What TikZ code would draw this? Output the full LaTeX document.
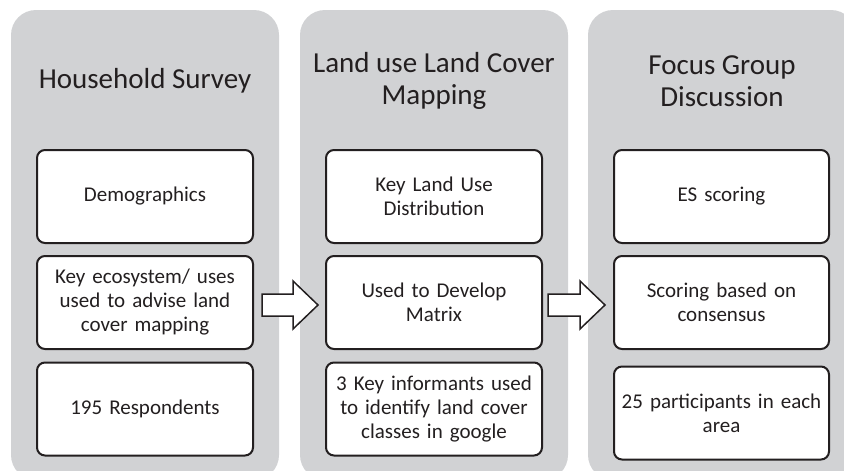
\documentclass[tikz,border=0pt]{standalone}
\usepackage{fontspec}
\setmainfont{Carlito}
\definecolor{colgray}{HTML}{D1D2D4}
\definecolor{ink}{HTML}{231F20}
\begin{document}
\begin{tikzpicture}[x=1pt,y=-1pt,
  column/.style={fill=colgray, draw=none, rounded corners=25pt},
  title/.style={align=center, text=ink, font=\fontsize{29}{32}\selectfont, inner sep=0pt},
  infobox/.style={draw=ink, line width=2pt, fill=white, rounded corners=8pt, align=center,
    text=ink, font=\fontsize{21}{24}\selectfont, inner sep=0pt, text width=200pt,
    minimum width=216pt, minimum height=93pt},
  blockarrow/.style={draw=ink, line width=1.5pt, fill=white, line join=miter}]
\useasboundingbox (0,0) rectangle (844,471);
\begin{scope}
\clip (0,0) rectangle (844,471);
\fill[column] (11,10) rectangle (279,480);
\fill[column] (300,10) rectangle (568,480);
\fill[column] (588,10) rectangle (856,480);
\end{scope}
\node[title] (t1) at (145,81) {Household Survey};
\node[title] (t2) at (434,81) {Land use Land Cover\\Mapping};
\node[title] (t3) at (722,81) {Focus Group\\Discussion};
% column 1
\node[infobox] (a1) at (145,196.5) {Demographics};
\node[infobox] (a2) at (145,302.5) {Key ecosystem/ uses\\used to advise land\\cover mapping};
\node[infobox] (a3) at (145,409) {195 Respondents};
% column 2
\node[infobox] (b1) at (434,196.5) {Key Land Use\\Distribution};
\node[infobox] (b2) at (434,302.5) {Used to Develop\\Matrix};
\node[infobox] (b3) at (434,409) {3 Key informants used\\to identify land cover\\classes in google};
% column 3
\node[infobox,minimum width=215pt] (c1) at (721.5,196.5) {ES scoring};
\node[infobox,minimum width=215pt] (c2) at (721.5,302.5) {Scoring based on\\consensus};
\node[infobox,minimum width=215pt] (c3) at (721.5,413) {25 participants in each\\area};
% block arrows
\coordinate (p1) at ([xshift=8pt,yshift=-2.5pt]a2.east);
\coordinate (p2) at ([xshift=5pt,yshift=-2.5pt]b2.east);
\draw[blockarrow] (p1) ++(0,-11) -- ++(31,0) -- ++(0,-13) -- ++(25,24) -- ++(-25,24) -- ++(0,-13) -- ++(-31,0) -- cycle;
\draw[blockarrow] (p2) ++(0,-11) -- ++(32,0) -- ++(0,-13) -- ++(25,24) -- ++(-25,24) -- ++(0,-13) -- ++(-32,0) -- cycle;
\end{tikzpicture}
\end{document}
